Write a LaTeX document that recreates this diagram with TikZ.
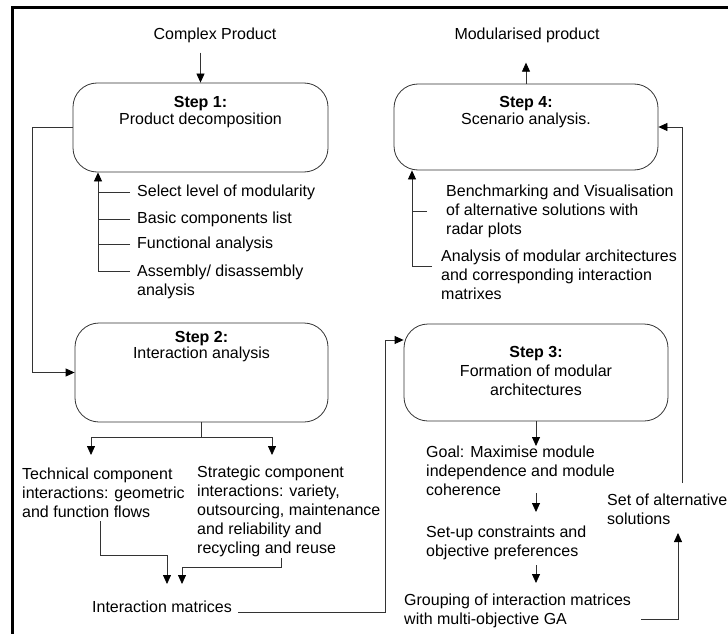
\documentclass[tikz,border=0pt]{standalone}
\usepackage{fontspec}
\setmainfont{Liberation Sans}
\usetikzlibrary{arrows.meta,positioning}
\newcommand{\diagfont}{\fontsize{16}{19}\selectfont}
\tikzset{
  stepbox/.style={draw=black!80, line width=0.8pt, rounded corners=24pt, minimum width=258pt, inner sep=0pt},
  steptext/.style={inner sep=0pt, align=center, font=\diagfont, anchor=north},
  txt/.style={inner sep=0pt, align=left, font=\diagfont},
  conn/.style={draw=black!80, line width=0.8pt},
}

\begin{document}
\begin{tikzpicture}[x=1pt, y=-1pt, >={Triangle[width=8pt,length=9pt,color=black]}]
  \useasboundingbox (0,0) rectangle (728,634);
  % frame
  \draw[line width=3pt] (12.5,634) -- (12.5,7.5) -- (729,7.5);

  % the four steps
  \node[stepbox, minimum width=255pt, minimum height=89pt] (s1) at (200.5,127.5) {};
  \node[steptext] (s1t) at ([yshift=-14pt]s1.north) {\textbf{Step 1:}\\[-2pt]Product decomposition};
  \node[stepbox, minimum width=253pt, minimum height=99pt] (s2) at (201.5,372.5) {};
  \node[steptext] (s2t) at ([yshift=-9pt]s2.north) {\textbf{Step 2:}\\[-3pt]Interaction analysis};
  \node[stepbox, minimum width=264pt, minimum height=97pt] (s3) at (536,372.5) {};
  \node[steptext] (s3t) at ([yshift=-23pt]s3.north) {\textbf{Step 3:}\\Formation of modular\\architectures};
  \node[stepbox, minimum width=264pt, minimum height=86pt] (s4) at (526,127) {};
  \node[steptext] (s4t) at ([yshift=-13pt]s4.north) {\textbf{Step 4:}\\[-2pt]Scenario analysis.};

  % input and output
  \node[txt] (cp) at (215,35) {Complex Product};
  \node[txt] (mp) at (527,35) {Modularised product};
  \draw[conn,->] ([yshift=-10pt]cp.south -| s1.north) -- (s1.north);
  \draw[conn,->] (s4.north) -- ([yshift=-20pt]mp.south -| s4.north);

  % step 1 -> step 2
  \coordinate (lft) at (32,0);
  \draw[conn,->] (s1.west) -- (s1.west -| lft) |- (s2.west);

  % what goes into step 1
  \node[txt, anchor=west] (l1) at (137,192) {Select level of modularity};
  \node[txt, anchor=west] (l2) at (137,219) {Basic components list};
  \node[txt, anchor=west] (l3) at (137,244) {Functional analysis};
  \node[txt, anchor=north west] (l4) at (137,265) {Assembly/ disassembly\\analysis};
  \coordinate (bx1) at (98,271);
  \draw[conn,->] (bx1) -- (bx1 |- s1.south);
  \foreach \n in {l1,l2,l3}
    \draw[conn] ([xshift=-7pt]\n.west) -- (bx1 |- \n.west);
  \draw[conn] ([xshift=-7pt,yshift=-6pt]l4.north west) -- (bx1);

  % what goes into step 4
  \node[txt, anchor=west] (b1) at (446,211) {Benchmarking and Visualisation\\of alternative solutions with\\radar plots};
  \node[txt, anchor=north west] (b2) at (441,250) {Analysis of modular architectures\\and corresponding interaction\\matrixes};
  \coordinate (bx4) at (412,266);
  \draw[conn,->] (bx4) -- (bx4 |- s4.south);
  \draw[conn] ([xshift=-19pt]b1.west) -- (bx4 |- b1.west);
  \draw[conn] ([xshift=-9pt,yshift=-16pt]b2.north west) -- (bx4);

  % loop back to step 4
  \coordinate (rl) at (682,483);
  \draw[conn,->] (rl) |- (s4.east);

  % step 2 outputs
  \node[txt, anchor=north west] (tc) at (22,468) {Technical component\\interactions: geometric\\and function flows};
  \node[txt, anchor=north west] (sc) at (197,466) {Strategic component\\interactions: variety,\\outsourcing, maintenance\\and reliability and\\recycling and reuse};
  \coordinate (sp) at (0,437);
  \coordinate (ta) at (91,455);
  \coordinate (tb) at (272,455);
  \draw[conn,->] (s2.south) -- (s2.south |- sp) -| (ta);
  \draw[conn,->] (s2.south |- sp) -| (tb);

  \node[txt] (im) at (162,607) {Interaction matrices};
  \coordinate (t1) at (100,521);
  \coordinate (t2) at (281,558);
  \coordinate (ia) at (167,584);
  \coordinate (ib) at (182,584);
  \draw[conn,->] (t1) -- ++(0,34) -| (ia);
  \draw[conn,->] (t2) -- ++(0,9) -| (ib);

  % matrices -> step 3
  \coordinate (mr) at (385,340);
  \draw[conn,->] ([xshift=6pt,yshift=-5pt]im.east) -| (mr) -- (mr -| s3.west);

  % step 3 chain
  \node[txt, anchor=north west] (go) at (426,446) {Goal: Maximise module\\independence and module\\coherence};
  \node[txt, anchor=north west] (su) at (426,526) {Set-up constraints and\\objective preferences};
  \node[txt, anchor=north west] (gr) at (404,594) {Grouping of interaction matrices\\with multi-objective GA};
  \coordinate (c1) at (0,493);
  \coordinate (c2) at (0,512);
  \coordinate (c3) at (0,565);
  \coordinate (c4) at (0,583);
  \draw[conn,->] (s3.south) -- (s3.south |- go.north);
  \draw[conn,->] (s3.south |- c1) -- (s3.south |- c2);
  \draw[conn,->] (s3.south |- c3) -- (s3.south |- c4);

  \node[txt, anchor=north west] (sa) at (607,494) {Set of alternative\\solutions};
  \coordinate (ge) at (641,619);
  \coordinate (gs) at (678,533);
  \draw[conn,->] (ge) -| (gs);
\end{tikzpicture}
\end{document}
